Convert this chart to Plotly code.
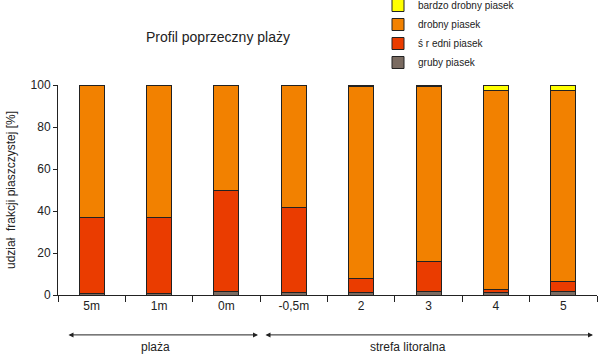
import plotly.graph_objects as go

categories = ["5m", "1m", "0m", "-0,5m", "2", "3", "4", "5"]
gruby = [0.5, 0.5, 1.9, 1.4, 1.3, 1.8, 1.1, 1.8]
sredni = [36.6, 36.2, 48.1, 40.5, 6.7, 14.2, 1.6, 4.7]
bardzo_drobny = [0.0, 0.0, 0.0, 0.0, 0.6, 0.6, 2.4, 2.4]
drobny = [100 - g - s - b for g, s, b in zip(gruby, sredni, bardzo_drobny)]

series = [
    ("gruby piasek", gruby, "#7A6B61"),
    ("ś r edni piasek", sredni, "#EA3C00"),
    ("drobny piasek", drobny, "#F28100"),
    ("bardzo drobny piasek", bardzo_drobny, "#FFFF00"),
]

FONT = "Liberation Sans, Arial, sans-serif"

fig = go.Figure()
for name, vals, col in series:
    fig.add_trace(go.Bar(
        x=categories, y=vals, name=name,
        marker=dict(color=col, line=dict(color="#222222", width=1)),
    ))

fig.update_layout(
    width=601, height=356,
    barmode="stack", bargap=0.63,
    plot_bgcolor="white", paper_bgcolor="white",
    margin=dict(l=58, r=4, t=85, b=61, autoexpand=False),
    font=dict(family=FONT, size=12, color="#222222"),
    showlegend=True,
    legend=dict(
        x=(378 - 58) / 539, y=(295 + 9) / 210, xanchor="left", yanchor="top",
        traceorder="reversed", font=dict(size=10, family=FONT),
        bgcolor="rgba(0,0,0,0)", itemwidth=30, tracegroupgap=0,
    ),
    xaxis=dict(
        type="category", tickson="boundaries", ticks="outside", ticklen=6,
        tickcolor="#222222", showline=True, linecolor="#222222", linewidth=1,
        showgrid=False, tickfont=dict(size=12),
    ),
    yaxis=dict(
        range=[0, 100], tickvals=[0, 20, 40, 60, 80, 100], ticks="outside",
        ticklen=4, tickcolor="#222222", showline=True, linecolor="#222222",
        linewidth=1, showgrid=False, zeroline=False, tickfont=dict(size=12),
        title=dict(text="udział  frakcji piaszczystej [%]", font=dict(size=12), standoff=12),
    ),
    annotations=[
        dict(text="Profil poprzeczny plaży", x=(218 - 58) / 539, y=(295 - 37) / 210,
             xref="paper", yref="paper", xanchor="center", yanchor="middle",
             showarrow=False, font=dict(size=14)),
        dict(text="", x=(258 - 58) / 539, y=-0.19, xref="paper", yref="paper",
             showarrow=True, ax=-191, ay=0, arrowside="end+start", arrowhead=2,
             arrowsize=1, arrowwidth=1, arrowcolor="#222222"),
        dict(text="", x=(593 - 58) / 539, y=-0.19, xref="paper", yref="paper",
             showarrow=True, ax=-329, ay=0, arrowside="end+start", arrowhead=2,
             arrowsize=1, arrowwidth=1, arrowcolor="#222222"),
        dict(text="plaża", x=(155 - 58) / 539, y=(295 - 347) / 210, xref="paper",
             yref="paper", xanchor="center", yanchor="middle",
             showarrow=False, font=dict(size=12)),
        dict(text="strefa litoralna", x=(408 - 58) / 539, y=(295 - 347) / 210,
             xref="paper", yref="paper", xanchor="center", yanchor="middle",
             showarrow=False, font=dict(size=12)),
    ],
)

fig.write_html("out.html", config={"displayModeBar": False},
               post_script="document.body.style.margin='0';")
